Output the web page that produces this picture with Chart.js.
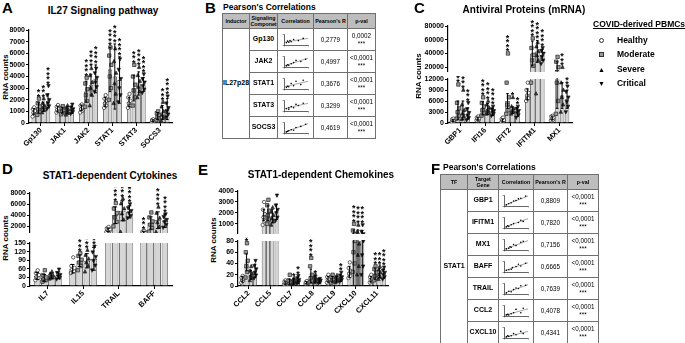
<!DOCTYPE html>
<html><head><meta charset="utf-8">
<script src="https://cdn.jsdelivr.net/npm/chart.js@4.4.0/dist/chart.umd.min.js"></script>
<style>
body{margin:0;width:685px;height:343px;position:relative;overflow:hidden;background:#fff;font-family:"Liberation Sans",Arial,sans-serif;color:#000}
.let{position:absolute;font-weight:bold;font-size:15px;line-height:15px}
.ttl{position:absolute;font-weight:bold;font-size:10px;line-height:12px;white-space:nowrap;transform:translateX(-50%)}
.ttl2{position:absolute;font-weight:bold;font-size:8.5px;line-height:10px;white-space:nowrap}
.yt{position:absolute;font-weight:bold;font-size:8px;white-space:nowrap;transform:translate(-50%,-50%) rotate(-90deg)}
canvas.c{position:absolute}
table{position:absolute;border-collapse:collapse;table-layout:fixed}
td,th{border:1px solid #707070;padding:0;text-align:center;vertical-align:middle;line-height:1.15;color:#000;background:#fff}
th{background:#bdbdbd;font-weight:bold;font-size:5.3px;height:14px}
td{height:21px;font-size:6.3px}
td.g{font-weight:bold;font-size:7px}
td canvas{display:block;margin:0 auto}
.lg{position:absolute;font-weight:bold;font-size:8.5px;white-space:nowrap}
.mk{display:inline-block;width:5px;height:5px;box-sizing:border-box;border:1px solid #333;vertical-align:middle}
</style></head><body>

<div class="let" style="left:2px;top:0px">A</div>
<div class="ttl" style="left:103px;top:5px">IL27 Signaling pathway</div>
<div class="yt" style="left:5px;top:77px">RNA counts</div>
<canvas class="c" id="cA" width="175" height="130" style="left:0px;top:22px"></canvas>

<div class="let" style="left:205px;top:0px">B</div>
<div class="ttl2" style="left:223px;top:2px">Pearson's Correlations</div>
<table id="tB" style="left:222px;top:13px;width:153px">
<colgroup><col style="width:27px"><col style="width:28px"><col style="width:36px"><col style="width:34px"><col style="width:28px"></colgroup>
<tr><th>Inductor</th><th>Signaling<br>Componet</th><th>Correlation</th><th>Pearson's R</th><th>p-val</th></tr>
</table>

<div class="let" style="left:414px;top:0px">C</div>
<div class="ttl" style="left:524px;top:4px">Antiviral Proteins (mRNA)</div>
<div class="yt" style="left:418px;top:76px">RNA counts</div>
<canvas class="c" id="cCu" width="160" height="52" style="left:415px;top:20px"></canvas>
<canvas class="c" id="cCl" width="160" height="77" style="left:415px;top:76px"></canvas>

<div class="lg" style="left:593px;top:19px;text-decoration:underline">COVID-derived PBMCs</div>
<div class="lg" style="left:599px;top:35px"><span class="mk" style="border-radius:50%;background:#fff"></span><span style="margin-left:13px">Healthy</span></div>
<div class="lg" style="left:599px;top:49px"><span class="mk" style="background:#999"></span><span style="margin-left:13px">Moderate</span></div>
<div class="lg" style="left:598px;top:64px"><span style="font-size:7px">&#9650;</span><span style="margin-left:12px">Severe</span></div>
<div class="lg" style="left:598px;top:78px"><span style="font-size:7px">&#9660;</span><span style="margin-left:12px">Critical</span></div>

<div class="let" style="left:2px;top:161px">D</div>
<div class="ttl" style="left:110px;top:170px">STAT1-dependent Cytokines</div>
<div class="yt" style="left:5px;top:238px">RNA counts</div>
<canvas class="c" id="cDu" width="175" height="46" style="left:0px;top:187px"></canvas>
<canvas class="c" id="cDl" width="175" height="77" style="left:0px;top:239px"></canvas>

<div class="let" style="left:198px;top:162px">E</div>
<div class="ttl" style="left:321px;top:169px">STAT1-dependent Chemokines</div>
<div class="yt" style="left:213px;top:240px">RNA counts</div>
<canvas class="c" id="cEu" width="188" height="49" style="left:203px;top:185px"></canvas>
<canvas class="c" id="cEl" width="188" height="79" style="left:203px;top:237px"></canvas>

<div class="let" style="left:431px;top:161px">F</div>
<div class="ttl2" style="left:443px;top:162px">Pearson's Correlations</div>
<table id="tF" style="left:440px;top:174px;width:158px">
<colgroup><col style="width:27px"><col style="width:31px"><col style="width:35px"><col style="width:34px"><col style="width:31px"></colgroup>
<tr><th>TF</th><th>Target Gene</th><th>Correlation</th><th>Pearson's R</th><th>p-val</th></tr>
</table>

<script>
const FF = '"Liberation Sans", Arial, sans-serif';
const groups = ['Healthy', 'Moderate', 'Severe', 'Critical'];

// A - IL27 signaling pathway
const aCats = ['Gp130', 'JAK1', 'JAK2', 'STAT1', 'STAT3', 'SOCS3'];
const aMean = [
  [1000, 1200, 1300, 1800, 1800, 200],
  [1300, 1100, 2700, 4600, 3000, 600],
  [1400, 1100, 3300, 4000, 3400, 900],
  [1900, 1150, 3800, 3700, 3300, 1200]
];
const aSD = [
  [250, 250, 250, 400, 400, 80],
  [450, 250, 900, 1900, 1100, 300],
  [400, 300, 900, 2800, 1000, 600],
  [600, 300, 1200, 2000, 600, 900]
];
const aPts = [
  [[550,750,900,1050,1200,1350],[900,1050,1150,1250,1400,1550],[900,1050,1200,1350,1500,1600],[1300,1500,1700,1900,2100,2400],[1300,1500,1700,1900,2200,2500],[80,130,180,220,260,320]],
  [[700,950,1200,1400,1700,2100],[750,900,1050,1150,1300,1450],[1400,1900,2400,2900,3400,3900],[2000,3000,4000,5000,5800,6500],[1500,2200,2800,3300,4000,5000],[250,400,550,700,850,1000]],
  [[900,1100,1300,1500,1700,2100],[700,850,1000,1150,1300,1500],[1500,2400,3000,3500,4100,4700],[1700,2500,3400,4300,5300,6400],[2200,2700,3100,3600,4100,4800],[200,450,700,1000,1400,1800]],
  [[1200,1450,1700,2000,2400,3200],[800,950,1050,1200,1350,1600],[2700,3100,3500,3900,4300,4700],[1800,2400,3000,3800,4600,5500],[2600,2900,3200,3500,3800,4200],[500,750,1000,1300,1700,2300]]
];
const aStars = [[0,0,0,0,0,0],[2,0,4,4,3,0],[3,0,4,4,4,3],[4,0,4,4,4,4]];
const aTicks = [0,1000,2000,3000,4000,5000,6000,7000,8000];

// C - antiviral proteins
const cCats = ['GBP1', 'IFI16', 'IFIT2', 'IFITM1', 'MX1'];
const cMean = [
  [700, 1200, 700, 7800, 1400],
  [3500, 4000, 6000, 40000, 16000],
  [3500, 3800, 3500, 43000, 7500],
  [2600, 3000, 3000, 38000, 6500]
];
const cSD = [
  [300, 400, 400, 1500, 500],
  [2500, 1800, 2000, 18000, 12000],
  [2500, 1500, 900, 16000, 3500],
  [1500, 1000, 1200, 8000, 2500]
];
const cPts = [
  [[300,450,600,800,1000,1200],[700,900,1100,1300,1500,1800],[300,450,600,800,1100,1500],[6000,6800,7500,8200,9000,11000],[700,900,1200,1500,1800,2000]],
  [[1200,2000,3000,4000,5500,10500],[2000,2800,3500,4500,5500,7000],[2500,3500,5000,7000,11000,40000],[11000,22000,30000,38000,48000,62000],[2500,6000,11000,20000,28000,35000]],
  [[1000,1800,2600,3500,5000,9000],[2500,3000,3500,4200,5000,6000],[2500,3000,3400,3900,4500,7000],[8000,30000,37000,43000,50000,56000],[3000,5000,7000,9000,11000,20000]],
  [[800,1400,2000,2800,3800,5500],[2000,2500,2900,3300,3800,4500],[1500,2200,2800,3300,3900,4500],[25000,30000,35000,40000,44000,48000],[3000,4500,5800,7000,8500,10000]]
];
const cStars = [[0,0,0,0,0],[3,4,4,4,0],[4,4,1,4,3],[3,4,2,4,3]];
const cTicksLow = [0,3000,6000,9000,12000];
const cTicksUp = [20000,40000,60000,80000];

// D - cytokines
const dCats = ['IL7', 'IL15', 'TRAIL', 'BAFF'];
const dMean = [[35, 60, 1400, 900],[28, 88, 4000, 2600],[35, 88, 4800, 3100],[37, 95, 4600, 3000]];
const dSD = [[12, 15, 300, 200],[12, 20, 1500, 1100],[10, 25, 1800, 1500],[12, 40, 1100, 1200]];
const dPts = [
  [[20,28,33,38,45,55],[45,52,58,63,70,100],[1000,1150,1300,1450,1650,1900],[600,750,850,950,1050,1200]],
  [[15,20,25,30,38,55],[55,70,82,92,105,115],[2000,2800,3600,4400,5200,6200],[1000,1700,2300,2900,3600,4500]],
  [[25,29,33,37,42,50],[50,70,82,95,108,125],[1000,3200,4300,5200,6100,7000],[1000,1900,2700,3500,4400,5500]],
  [[24,29,34,39,46,58],[55,72,88,102,118,138],[3500,3900,4400,4800,5300,6000],[1800,2300,2800,3200,3700,4200]]
];
const dStars = [[0,0,0,3],[0,3,4,0],[0,4,4,4],[0,4,4,4]];
const dTicksLow = [0,30,60,90,120,150];
const dTicksUp = [2000,4000,6000,8000];

// E - chemokines
const eCats = ['CCL2', 'CCL5', 'CCL7', 'CCL8', 'CXCL9', 'CXCL10', 'CXCL11'];
const eMean = [
  [12, 1800, 6, 6, 12, 25, 12],
  [42, 2000, 7, 18, 12, 150, 22],
  [20, 1700, 8, 12, 12, 150, 23],
  [27, 2100, 10, 9, 14, 130, 22]
];
const eSD = [
  [5, 500, 3, 2, 5, 10, 5],
  [15, 700, 5, 12, 5, 300, 10],
  [8, 600, 5, 6, 5, 300, 8],
  [12, 700, 6, 4, 6, 280, 8]
];
const ePts = [
  [[6,9,11,13,15,18],[900,1300,1600,1900,2300,3000],[3,4,5,7,8,10],[4,5,6,6,7,9],[6,9,11,13,16,20],[14,18,22,27,32,42],[6,8,11,13,16,20]],
  [[15,25,35,45,60,76],[1000,1400,1800,2200,2700,3200],[3,5,6,8,10,20],[7,10,14,20,35,50],[6,9,11,13,16,20],[25,40,60,80,400,1000],[10,14,18,24,30,35]],
  [[10,14,18,22,27,35],[900,1200,1500,1800,2100,2500],[4,6,7,9,11,14],[6,8,11,13,16,20],[6,9,11,13,15,19],[20,35,55,75,300,900],[12,16,20,24,29,35]],
  [[14,19,24,30,36,45],[1300,1600,2000,2300,2700,3600],[5,7,9,11,14,18],[5,7,8,10,11,13],[8,11,13,16,19,24],[20,35,55,80,300,900],[12,16,20,24,28,33]]
];
const eStars = [[0,0,0,0,0,0,0],[4,0,0,4,0,4,3],[0,0,1,1,0,4,3],[0,0,2,0,2,4,4]];
const eTicksLow = [0,20,40,60,80];
const eTicksUp = [1000,2000,3000,4000];

// B / F - correlation tables
const bInductor = 'IL27p28';
const bGenes = ['Gp130', 'JAK2', 'STAT1', 'STAT3', 'SOCS3'];
const bR = ['0,2779', '0,4997', '0,3676', '0,3299', '0,4619'];
const bP = ['0,0002', '<0,0001', '<0,0001', '<0,0001', '<0,0001'];
const bSc = [
  [[1,2],[1.5,3.5],[2,2.5],[2.5,4],[3,3],[4,5],[6,4],[8,6]],
  [[1,1],[1.5,2],[2,1.5],[3,3],[4,4],[5,6],[7,5],[9,7]],
  [[1,1.5],[1.5,2.5],[2,2],[3,5],[4,3],[5,7],[7,4],[8,8]],
  [[1,2],[2,1.5],[2,3],[3,4],[4,3],[5,6],[6,5],[8,7]],
  [[1,1],[1.5,1.5],[2,2],[3,3],[4,2.5],[5,5],[7,6],[9,8]]
];
const bFit = [[2.5,6],[1,8],[2,7],[2,7],[0.5,8.5]];
const fTF = 'STAT1';
const fGenes = ['GBP1', 'IFITM1', 'MX1', 'BAFF', 'TRAIL', 'CCL2', 'CXCL10'];
const fR = ['0,8809', '0,7820', '0,7156', '0,6665', '0,7639', '0,4078', '0,4341'];
const fP = ['<0,0001', '<0,0001', '<0,0001', '<0,0001', '<0,0001', '<0,0001', '<0,0001'];
const fSc = [
  [[1,1],[2,2],[3,3],[4,4.5],[5,5],[6,6.5],[7,7],[9,9]],
  [[1,1],[1.5,2],[2,1.5],[3,3],[4,4],[6,5],[7,7],[8,6]],
  [[1,1],[2,1.5],[2.5,3],[3,2.5],[4,5],[5,4],[7,7],[8,8]],
  [[1,1.5],[2,2],[3,2.5],[3.5,4],[5,5],[6,7],[7,5.5],[9,8]],
  [[1,1],[2,2.5],[3,2],[4,4],[5,5.5],[6,5],[7,7.5],[9,8]],
  [[1,1],[1.5,1.5],[2,1],[3,2],[4,3],[5,6],[7,3],[8,7]],
  [[1,1],[1.5,2],[2,1.5],[3,2],[4,4],[5,3],[7,6],[8,4]]
];
const fFit = [[0.5,9],[0.5,8.5],[0.5,8.5],[1,8.5],[0.5,8.5],[0.5,6.5],[0.5,6]];

const jit = [-0.28, 0.22, -0.06, 0.3, -0.2, 0.1];
const dotFill = ['#fff', '#9a9a9a', '#333', '#111'];

function dot(ctx, g, x, y) {
  const r = 1.7;
  ctx.beginPath();
  if (g === 0) ctx.arc(x, y, r, 0, Math.PI * 2);
  else if (g === 1) ctx.rect(x - r, y - r, 2 * r, 2 * r);
  else if (g === 2) { ctx.moveTo(x, y - r * 1.2); ctx.lineTo(x + r, y + r * 0.8); ctx.lineTo(x - r, y + r * 0.8); ctx.closePath(); }
  else { ctx.moveTo(x, y + r * 1.2); ctx.lineTo(x + r, y - r * 0.8); ctx.lineTo(x - r, y - r * 0.8); ctx.closePath(); }
  ctx.fillStyle = dotFill[g];
  ctx.fill();
  ctx.strokeStyle = '#222';
  ctx.lineWidth = 0.7;
  ctx.stroke();
}

// points, SD whiskers and significance stars on top of the bars
const extras = {
  id: 'extras',
  afterDatasetsDraw(chart, args, o) {
    const {ctx, chartArea: a} = chart;
    const y = chart.scales.y;
    const inRange = v => v >= y.min && v <= y.max;
    ctx.save();
    ctx.beginPath();
    ctx.rect(a.left, a.top - 1, a.right - a.left, a.bottom - a.top + 1);
    ctx.clip();
    chart.data.datasets.forEach((ds, g) => {
      chart.getDatasetMeta(g).data.forEach((bar, c) => {
        const w = bar.width, m = ds.data[c], s = ds.sd[c];
        ds.pts[c].forEach((v, k) => {
          if (inRange(v)) dot(ctx, g, bar.x + jit[k % jit.length] * w, y.getPixelForValue(v));
        });
        const hi = m + s, lo = Math.max(m - s, 0);
        if (hi < y.min || lo > y.max) return;
        const y1 = y.getPixelForValue(hi), y0 = y.getPixelForValue(lo);
        ctx.strokeStyle = '#000';
        ctx.lineWidth = 1;
        ctx.beginPath();
        ctx.moveTo(bar.x, y0); ctx.lineTo(bar.x, y1);
        if (inRange(hi)) { ctx.moveTo(bar.x - w * 0.3, y1); ctx.lineTo(bar.x + w * 0.3, y1); }
        if (inRange(lo)) { ctx.moveTo(bar.x - w * 0.3, y0); ctx.lineTo(bar.x + w * 0.3, y0); }
        ctx.stroke();
      });
    });
    ctx.restore();

    ctx.save();
    ctx.fillStyle = '#000';
    ctx.font = 'bold 9px ' + FF;
    ctx.textAlign = 'center';
    ctx.textBaseline = 'top';
    chart.data.datasets.forEach((ds, g) => {
      chart.getDatasetMeta(g).data.forEach((bar, c) => {
        const n = ds.stars[c];
        if (!n) return;
        const top = Math.max(ds.data[c] + ds.sd[c], ...ds.pts[c]);
        let py;
        if (o.brk === 'lower') { if (top > y.max) return; py = y.getPixelForValue(top); }
        else if (o.brk === 'upper') { if (top <= o.lowerMax) return; py = y.getPixelForValue(Math.max(top, y.min)); }
        else py = y.getPixelForValue(top);
        for (let k = 0; k < n; k++) ctx.fillText('*', bar.x, py - 6 - k * 4.5);
      });
    });
    ctx.restore();
  }
};

function bars(id, cats, means, sds, pts, stars, cfg) {
  const tickFont = {size: 7, weight: 'bold', family: FF};
  return new Chart(document.getElementById(id), {
    type: 'bar',
    data: {
      labels: cats,
      datasets: groups.map((g, i) => ({
        label: g,
        data: means[i],
        sd: sds[i],
        pts: pts[i],
        stars: stars[i],
        backgroundColor: '#d6d6d6',
        borderColor: '#000',
        borderWidth: 0.7,
        clip: 0,
        categoryPercentage: 0.8,
        barPercentage: 0.9
      }))
    },
    options: {
      responsive: false,
      animation: false,
      events: [],
      layout: {padding: {top: cfg.padTop, right: 3, left: 0, bottom: 0}},
      plugins: {legend: {display: false}, tooltip: {enabled: false}, extras: {brk: cfg.brk, lowerMax: cfg.lowerMax}},
      scales: {
        x: {
          display: cfg.showX,
          afterFit: s => { if (cfg.showX) s.height = cfg.xH; s.paddingLeft = 0; s.paddingRight = 0; },
          grid: {drawOnChartArea: false, offset: false, tickLength: 3, color: '#000'},
          border: {color: '#000', width: 1.2},
          ticks: {font: {size: 7.5, weight: 'bold', family: FF}, color: '#000', maxRotation: 45, minRotation: 45, padding: 0, autoSkip: false}
        },
        y: {
          min: cfg.min,
          max: cfg.max,
          afterBuildTicks: s => { s.ticks = cfg.ticks.map(v => ({value: v})); },
          afterFit: s => { s.width = cfg.yW; s.paddingTop = 0; s.paddingBottom = 0; },
          grid: {drawOnChartArea: false, tickLength: 3, color: '#000'},
          border: {color: '#000', width: 1.2},
          ticks: {font: tickFont, color: '#000', padding: 1, autoSkip: false, callback: v => String(v)}
        }
      }
    },
    plugins: [extras]
  });
}

bars('cA', aCats, aMean, aSD, aPts, aStars, {min: 0, max: 8000, ticks: aTicks, showX: true, yW: 29, xH: 29, padTop: 8});

bars('cCu', cCats, cMean, cSD, cPts, cStars, {min: 13000, max: 80000, ticks: cTicksUp, showX: false, yW: 33, padTop: 6, brk: 'upper', lowerMax: 12000});
bars('cCl', cCats, cMean, cSD, cPts, cStars, {min: 0, max: 12000, ticks: cTicksLow, showX: true, yW: 33, xH: 30, padTop: 3, brk: 'lower'});

bars('cDu', dCats, dMean, dSD, dPts, dStars, {min: 800, max: 8000, ticks: dTicksUp, showX: false, yW: 30, padTop: 6, brk: 'upper', lowerMax: 150});
bars('cDl', dCats, dMean, dSD, dPts, dStars, {min: 0, max: 150, ticks: dTicksLow, showX: true, yW: 30, xH: 30, padTop: 4, brk: 'lower'});

bars('cEu', eCats, eMean, eSD, ePts, eStars, {min: 80, max: 4000, ticks: eTicksUp, showX: false, yW: 35, padTop: 6, brk: 'upper', lowerMax: 80});
bars('cEl', eCats, eMean, eSD, ePts, eStars, {min: 0, max: 80, ticks: eTicksLow, showX: true, yW: 35, xH: 30, padTop: 4, brk: 'lower'});

// small scatter thumbnails in the "Correlation" column
function mini(cv, pts, fit) {
  const ax = {
    min: 0, max: 10,
    ticks: {display: false},
    grid: {drawOnChartArea: false, tickLength: 1.5, color: '#000', lineWidth: 0.4},
    border: {color: '#000', width: 0.6}
  };
  new Chart(cv, {
    type: 'scatter',
    data: {datasets: [
      {data: pts.map(p => ({x: p[0], y: p[1]})), pointRadius: 0.8, backgroundColor: '#000', borderWidth: 0},
      {type: 'line', data: [{x: 0, y: fit[0]}, {x: 10, y: fit[1]}], borderColor: '#666', borderWidth: 0.6, pointRadius: 0}
    ]},
    options: {
      responsive: false, animation: false, events: [],
      layout: {padding: {top: 1, right: 1, left: 1, bottom: 0}},
      plugins: {legend: {display: false}, tooltip: {enabled: false}},
      scales: {x: ax, y: ax}
    }
  });
}

function fillTable(id, first, genes, rs, ps, sc, fits) {
  const t = document.getElementById(id);
  genes.forEach((g, i) => {
    const tr = t.insertRow();
    if (i === 0) {
      const td = tr.insertCell();
      td.rowSpan = genes.length;
      td.className = 'g';
      td.textContent = first;
    }
    const c1 = tr.insertCell(); c1.className = 'g'; c1.textContent = g;
    const c2 = tr.insertCell();
    const cv = document.createElement('canvas');
    cv.width = 32; cv.height = 19;
    c2.appendChild(cv);
    const c3 = tr.insertCell(); c3.textContent = rs[i];
    const c4 = tr.insertCell(); c4.innerHTML = ps[i].replace('<', '&lt;') + '<br>***';
    mini(cv, sc[i], fits[i]);
  });
}

fillTable('tB', bInductor, bGenes, bR, bP, bSc, bFit);
fillTable('tF', fTF, fGenes, fR, fP, fSc, fFit);
</script>
</body></html>
